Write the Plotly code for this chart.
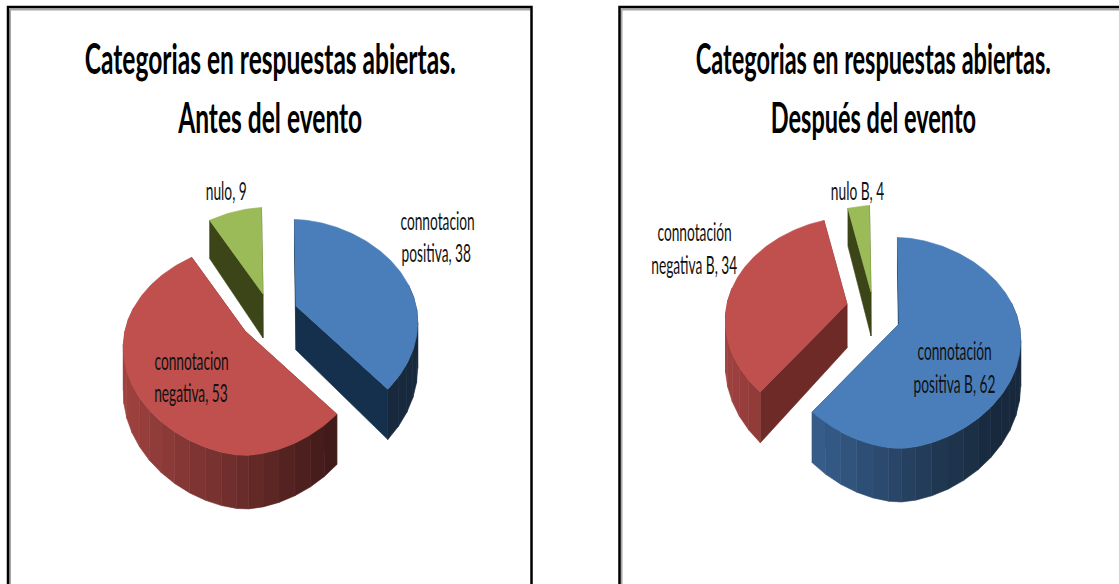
import math
import plotly.graph_objects as go

# ---- data ----
categories_a = ["connotacion positiva", "connotacion negativa", "nulo"]
values_a = [38, 53, 9]
categories_b = ["connotación positiva B", "connotación negativa B", "nulo B"]
values_b = [62, 34, 4]
title_a = ["Categorias en respuestas abiertas.", "Antes del evento"]
title_b = ["Categorias en respuestas abiertas.", "Después del evento"]

# ---- styling / layout ----
BASE = ["#4a7ebb", "#c0504d", "#9bbb59"]
FLAT_DARK = ["#14304c", "#6e2a26", "#3b4518"]
FONT = "Lato"
R, RY, P, DEPTH = 120, 102, 0.18, 44
APEX_A = [(296, 306), (245, 331), (263, 294)]
APEX_B = [(899, 324), (847, 304), (871, 292)]
LABELS = [(437, 220, "connotacion"), (436, 252, "positiva, 38"),
          (191, 360, "connotacion"), (191, 392, "negativa, 53"),
          (226, 190, "nulo, 9"),
          (954, 350, "connotación"), (954, 383, "positiva B, 62"),
          (694, 231, "connotación"), (694, 264, "negativa B, 34"),
          (857, 190, "nulo B, 4")]


def rgb(hexc):
    return tuple(int(hexc[i:i + 2], 16) for i in (1, 3, 5))


def shade(hexc, f):
    r, g, b = rgb(hexc)
    return f"rgb({int(r * f)},{int(g * f)},{int(b * f)})"


def proj(apex, deg, rad=1.0, drop=0.0):
    t = math.radians(deg)
    v = -math.cos(t) * rad
    d = 1 - P * v
    s = math.sin(t)
    sx = math.copysign(abs(s) ** 1.15, s)
    return (apex[0] + R * rad * sx / d,
            apex[1] + (RY * v + drop) / d)


def poly(fig, pts, color, name, value):
    fig.add_trace(go.Scatter(
        x=[p[0] for p in pts] + [pts[0][0]],
        y=[p[1] for p in pts] + [pts[0][1]],
        mode="lines", fill="toself", fillcolor=color,
        line=dict(color=color, width=0.6),
        name=name, text=f"{name}, {value}", hoverinfo="text", showlegend=False))


def draw_pie(fig, cats, vals, apexes):
    total = sum(vals)
    angles = []
    a = -1.5
    for v in vals:
        angles.append((a, a + 360 * v / total))
        a += 360 * v / total
    for i in (0, 2, 1):
        start, end = angles[i]
        ap = apexes[i]
        name, val = cats[i], vals[i]
        # cut faces
        for edge in (start, end):
            poly(fig, [proj(ap, edge, 0, 0), proj(ap, edge),
                       proj(ap, edge, 1, DEPTH), proj(ap, edge, 0, DEPTH)],
                 FLAT_DARK[i], name, val)
        # outer wall, in facets (front part only)
        n = max(2, int((end - start) / 7))
        for k in range(n):
            a0 = start + (end - start) * k / n
            a1 = start + (end - start) * (k + 1) / n
            mid = math.radians((a0 + a1) / 2)
            if -math.cos(mid) < -0.2:
                continue
            s = math.sin(mid)
            f = max(0.33, 0.85 - 0.52 * (s + 1) / 1.7)
            poly(fig, [proj(ap, a0), proj(ap, a1),
                       proj(ap, a1, 1, DEPTH), proj(ap, a0, 1, DEPTH)],
                 shade(BASE[i], f), name, val)
        # top face
        m = max(6, int(end - start))
        pts = [proj(ap, 0, 0)]
        pts += [proj(ap, start + (end - start) * k / m) for k in range(m + 1)]
        poly(fig, pts, BASE[i], name, val)


fig = go.Figure()
draw_pie(fig, categories_a, values_a, APEX_A)
draw_pie(fig, categories_b, values_b, APEX_B)

ann = []
for lx, ly, txt in LABELS:
    ann.append(dict(x=lx, y=ly, xref="x", yref="y", text=txt, showarrow=False,
                    font=dict(family=FONT, size=25, color="#111111")))
for cx, lines in ((270, title_a), (873.5, title_b)):
    for ly, line in zip((58, 117), lines):
        ann.append(dict(x=cx, y=ly, xref="x", yref="y", text=f"<b>{line}</b>", showarrow=False,
                        font=dict(family=FONT, size=42, color="#000000")))

shapes = []
for x0, x1 in ((8, 531.5), (619.5, 1135)):
    shapes.append(dict(type="line", xref="x", yref="y", x0=x0 + 2, x1=x1 - 1, y0=9.5, y1=9.5,
                       line=dict(color="#a6a6a6", width=2)))
    shapes.append(dict(type="line", xref="x", yref="y", x0=x0 + 2, x1=x0 + 2, y0=9.5, y1=600,
                       line=dict(color="#a6a6a6", width=2)))
    shapes.append(dict(type="rect", xref="x", yref="y", x0=x0, x1=x1, y0=7, y1=600,
                       line=dict(color="#000000", width=2.5)))

fig.update_layout(
    width=1119, height=584, margin=dict(l=0, r=0, t=0, b=0),
    paper_bgcolor="white", plot_bgcolor="white", showlegend=False,
    xaxis=dict(range=[0, 1119], visible=False, fixedrange=True),
    yaxis=dict(range=[584, 0], visible=False, fixedrange=True),
    annotations=ann, shapes=shapes,
)

# The reference's lettering is horizontally squeezed: condense the real text.
POST = """
document.body.style.margin='0';document.body.style.overflow='hidden';
var gd=document.getElementById('{plot_id}');
function squeeze(){
  gd.querySelectorAll('text.annotation-text').forEach(function(t){
    var b=t.getBBox();
    var big=parseFloat(t.style.fontSize)>30;
    var cx=b.x+b.width/2;
    var m=t.getCTM();
    var right=m.e+cx>600;
    var sx=big?(right?0.56:0.585):0.55;
    t.setAttribute('transform','translate('+cx+',0) scale('+sx+',1) translate('+(-cx)+',0)');
  });
}
squeeze();gd.on('plotly_afterplot',squeeze);
"""
fig.write_html("out.html", post_script=POST, config={"displayModeBar": False})
